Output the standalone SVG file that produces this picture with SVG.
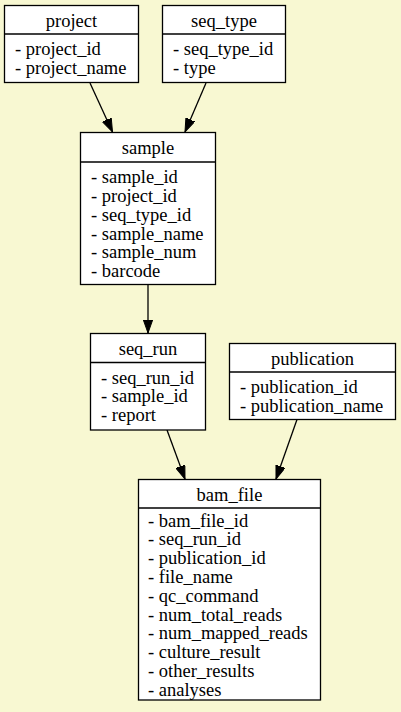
<svg xmlns="http://www.w3.org/2000/svg" width="401" height="712" viewBox="0 0 401 712">
<defs>
<marker id="arr" markerUnits="userSpaceOnUse" markerWidth="14" markerHeight="10" refX="13.5" refY="4.8" orient="auto">
<path d="M0,0 L13.5,4.8 L0,9.6 z" fill="#000" stroke="#000" stroke-width="1"/>
</marker>
</defs>
<rect x="0" y="0" width="401" height="712" fill="#f8f8d2"/>
<g id="edges" stroke="#000" stroke-width="1.3" fill="none" marker-end="url(#arr)">
<line x1="90" y1="83" x2="112.5" y2="132"/>
<line x1="206" y1="83" x2="185" y2="132"/>
<line x1="148" y1="284.5" x2="148" y2="333"/>
<line x1="167" y1="430" x2="185" y2="479"/>
<line x1="297" y1="419.5" x2="276" y2="479"/>
</g>
<g id="project">
<rect fill="#fff" stroke="#000" stroke-width="1.3" x="4.5" y="5.5" width="134" height="77"/>
<line stroke="#000" stroke-width="1.3" x1="4.5" y1="34" x2="138.5" y2="34"/>
<text style="font-family:'Liberation Serif',serif;font-size:18.5px" text-anchor="middle" x="71.5" y="26.7">project</text>
<text style="font-family:'Liberation Serif',serif;font-size:18.5px" x="15" y="55.3">- project_id</text>
<text style="font-family:'Liberation Serif',serif;font-size:18.5px" x="15" y="74.1">- project_name</text>
</g>
<g id="seq_type">
<rect fill="#fff" stroke="#000" stroke-width="1.3" x="162.5" y="5.5" width="123" height="77"/>
<line stroke="#000" stroke-width="1.3" x1="162.5" y1="34" x2="285.5" y2="34"/>
<text style="font-family:'Liberation Serif',serif;font-size:18.5px" text-anchor="middle" x="224" y="26.7">seq_type</text>
<text style="font-family:'Liberation Serif',serif;font-size:18.5px" x="173" y="55.3">- seq_type_id</text>
<text style="font-family:'Liberation Serif',serif;font-size:18.5px" x="173" y="74.1">- type</text>
</g>
<g id="sample">
<rect fill="#fff" stroke="#000" stroke-width="1.3" x="80.5" y="132.5" width="135" height="152"/>
<line stroke="#000" stroke-width="1.3" x1="80.5" y1="162" x2="215.5" y2="162"/>
<text style="font-family:'Liberation Serif',serif;font-size:18.5px" text-anchor="middle" x="148" y="154">sample</text>
<text style="font-family:'Liberation Serif',serif;font-size:18.5px" x="91" y="183.2">- sample_id</text>
<text style="font-family:'Liberation Serif',serif;font-size:18.5px" x="91" y="202">- project_id</text>
<text style="font-family:'Liberation Serif',serif;font-size:18.5px" x="91" y="220.8">- seq_type_id</text>
<text style="font-family:'Liberation Serif',serif;font-size:18.5px" x="91" y="239.6">- sample_name</text>
<text style="font-family:'Liberation Serif',serif;font-size:18.5px" x="91" y="258.4">- sample_num</text>
<text style="font-family:'Liberation Serif',serif;font-size:18.5px" x="91" y="277.2">- barcode</text>
</g>
<g id="seq_run">
<rect fill="#fff" stroke="#000" stroke-width="1.3" x="90.5" y="333.5" width="115" height="96.5"/>
<line stroke="#000" stroke-width="1.3" x1="90.5" y1="362.5" x2="205.5" y2="362.5"/>
<text style="font-family:'Liberation Serif',serif;font-size:18.5px" text-anchor="middle" x="148" y="355">seq_run</text>
<text style="font-family:'Liberation Serif',serif;font-size:18.5px" x="101" y="383.6">- seq_run_id</text>
<text style="font-family:'Liberation Serif',serif;font-size:18.5px" x="101" y="402.4">- sample_id</text>
<text style="font-family:'Liberation Serif',serif;font-size:18.5px" x="101" y="421.2">- report</text>
</g>
<g id="publication">
<rect fill="#fff" stroke="#000" stroke-width="1.3" x="229.5" y="343.5" width="166" height="76"/>
<line stroke="#000" stroke-width="1.3" x1="229.5" y1="372" x2="395.5" y2="372"/>
<text style="font-family:'Liberation Serif',serif;font-size:18.5px" text-anchor="middle" x="312.5" y="364.7">publication</text>
<text style="font-family:'Liberation Serif',serif;font-size:18.5px" x="240" y="393.3">- publication_id</text>
<text style="font-family:'Liberation Serif',serif;font-size:18.5px" x="240" y="412.1">- publication_name</text>
</g>
<g id="bam_file">
<rect fill="#fff" stroke="#000" stroke-width="1.3" x="138.5" y="479.5" width="182" height="220.5"/>
<line stroke="#000" stroke-width="1.3" x1="138.5" y1="508" x2="320.5" y2="508"/>
<text style="font-family:'Liberation Serif',serif;font-size:18.5px" text-anchor="middle" x="229.5" y="500.7">bam_file</text>
<text style="font-family:'Liberation Serif',serif;font-size:18.5px" x="148" y="526.6">- bam_file_id</text>
<text style="font-family:'Liberation Serif',serif;font-size:18.5px" x="148" y="545.4">- seq_run_id</text>
<text style="font-family:'Liberation Serif',serif;font-size:18.5px" x="148" y="564.2">- publication_id</text>
<text style="font-family:'Liberation Serif',serif;font-size:18.5px" x="148" y="583">- file_name</text>
<text style="font-family:'Liberation Serif',serif;font-size:18.5px" x="148" y="601.8">- qc_command</text>
<text style="font-family:'Liberation Serif',serif;font-size:18.5px" x="148" y="620.6">- num_total_reads</text>
<text style="font-family:'Liberation Serif',serif;font-size:18.5px" x="148" y="639.4">- num_mapped_reads</text>
<text style="font-family:'Liberation Serif',serif;font-size:18.5px" x="148" y="658.2">- culture_result</text>
<text style="font-family:'Liberation Serif',serif;font-size:18.5px" x="148" y="677">- other_results</text>
<text style="font-family:'Liberation Serif',serif;font-size:18.5px" x="148" y="695.8">- analyses</text>
</g>
</svg>
